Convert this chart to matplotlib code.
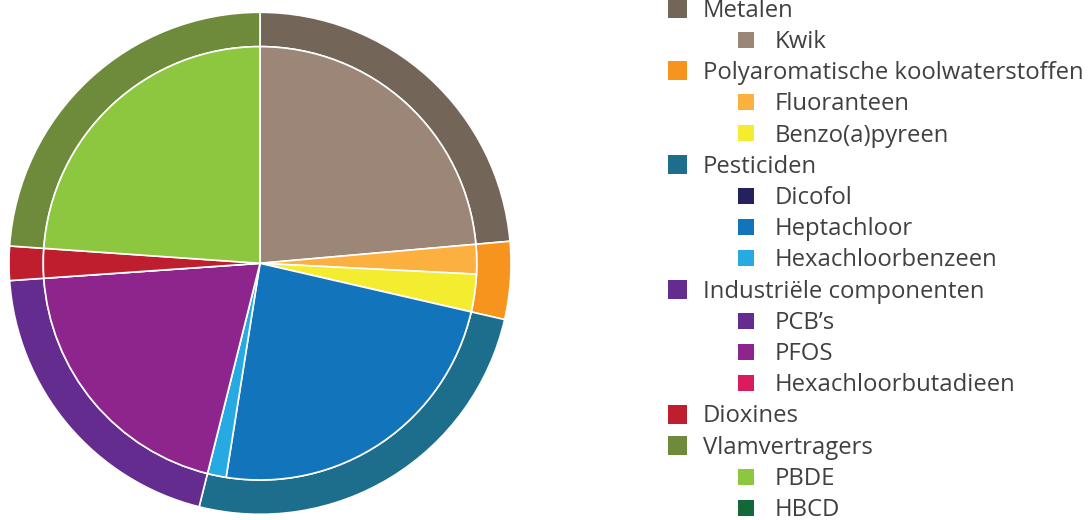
import matplotlib
matplotlib.use('Agg')
from matplotlib import pyplot as plt
from matplotlib.patches import Rectangle

plt.rcParams['font.family'] = ['Open Sans', 'DejaVu Sans']

# groups (outer ring)
groups = ['Metalen', 'Polyaromatische koolwaterstoffen', 'Pesticiden',
          'Industriële componenten', 'Dioxines', 'Vlamvertragers']
group_colors = ['#736558', '#f7941d', '#1c6e8c', '#652c90', '#be1e2d', '#6d8b3a']

# substances (inner pie), share in %
substances = ['Kwik', 'Fluoranteen', 'Benzo(a)pyreen', 'Dicofol', 'Heptachloor',
              'Hexachloorbenzeen', 'PCB’s', 'PFOS', 'Hexachloorbutadieen',
              'Dioxines', 'PBDE', 'HBCD']
substance_group = [0, 1, 1, 2, 2, 2, 3, 3, 3, 4, 5, 5]
substance_values = [23.6, 2.2, 2.8, 0.0, 23.9, 1.4, 0.0, 20.0, 0.0, 2.2, 23.9, 0.0]
substance_colors = ['#9b8678', '#fbb040', '#f3ec2f', '#25205e', '#1275bc', '#27aae1',
                    '#652c90', '#8e258d', '#da1c5c', '#be1e2d', '#8dc63f', '#116936']

group_values = [sum(v for v, g in zip(substance_values, substance_group) if g == i)
                for i in range(len(groups))]

W, H = 1091, 520
fig = plt.figure(figsize=(W / 100, H / 100), dpi=100)

# pie
cx, cy, R = 260, 263.3, 251
inner = 216.7 / R
ax = fig.add_axes([(cx - R) / W, (H - cy - R) / H, 2 * R / W, 2 * R / H])
ax.pie(group_values, radius=1, colors=group_colors, startangle=90, counterclock=False,
       wedgeprops=dict(width=1 - inner, edgecolor='white', linewidth=1.2))
ax.pie(substance_values, radius=inner, colors=substance_colors, startangle=90,
       counterclock=False, wedgeprops=dict(edgecolor='white', linewidth=1.2))
ax.set_xlim(-1, 1)
ax.set_ylim(-1, 1)
ax.set_aspect('equal')
ax.axis('off')

# legend, drawn by hand to get the two indent levels
lax = fig.add_axes([0, 0, 1, 1])
lax.set_xlim(0, W)
lax.set_ylim(H, 0)
lax.axis('off')

rows = []
for i, g in enumerate(groups):
    rows.append((g, group_colors[i], 0))
    for s, sg, c in zip(substances, substance_group, substance_colors):
        if sg == i and s != g:
            rows.append((s, c, 1))

y0, dy = 8.5, 31.2
for k, (label, color, level) in enumerate(rows):
    y = y0 + k * dy
    if level == 0:
        size, xm, xt = 19, 668, 703
    else:
        size, xm, xt = 16, 738, 775
    lax.add_patch(Rectangle((xm, y - size / 2), size, size, color=color, lw=0))
    lax.text(xt, y + 8.4, label, va='baseline', ha='left', fontsize=17.2, color='#404040')

fig.savefig('out.png', dpi=100)
